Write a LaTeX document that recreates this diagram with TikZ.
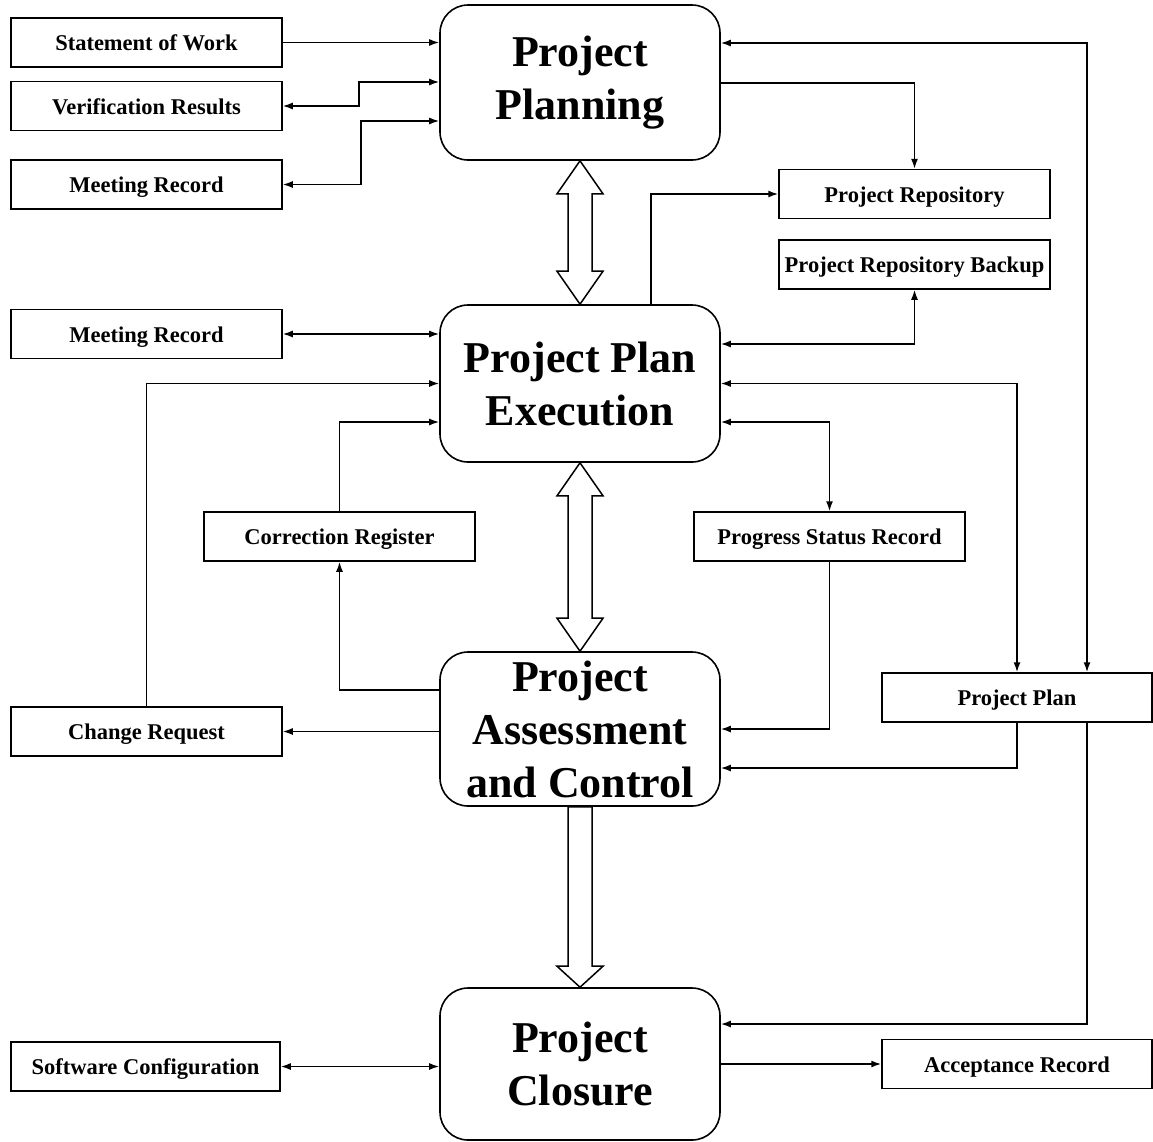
\documentclass[tikz,border=0pt]{standalone}
\usepackage{fontspec}
\setmainfont{Liberation Serif}
\usetikzlibrary{arrows.meta,calc}
\begin{document}
\begin{tikzpicture}[x=1pt,y=-1pt,
  bigbox/.style={draw, line width=1.6pt, rounded corners=28pt, minimum width=280pt, align=center, inner sep=0pt, font=\fontsize{44}{53}\selectfont\bfseries},
  smallbox/.style={draw, line width=1.5pt, minimum width=271pt, minimum height=49pt, inner sep=0pt, text height=18pt, text depth=2pt, font=\fontsize{22.5}{27}\selectfont\bfseries},
  conn/.style={line width=1.5pt},
  >={Latex[length=10pt,width=7pt]},
  blk/.style={draw, line width=1.5pt, fill=white, line join=miter}]
\useasboundingbox (0,0) rectangle (1153,1141);

% main nodes
\node[bigbox, minimum height=155pt] (plan) at (580,82.5) {Project\\Planning};
\node[bigbox, minimum height=157pt] (exec) at (580,383.5) {Project Plan\\Execution};
\node[bigbox, minimum height=154pt] (assess) at (580,729) {Project\\Assessment\\and Control};
\node[bigbox, minimum height=152pt] (closure) at (580,1064) {Project\\Closure};

% small boxes
\node[smallbox] (sow) at (146.5,42.5) {Statement of Work};
\node[smallbox] (ver) at (146.5,106) {Verification Results};
\node[smallbox] (mr1) at (146.5,184.5) {Meeting Record};
\node[smallbox] (mr2) at (146.5,334) {Meeting Record};
\node[smallbox] (cr) at (146.5,731.5) {Change Request};
\node[smallbox, minimum width=269pt] (sc) at (145.5,1066.5) {Software Configuration};
\node[smallbox] (corr) at (339.5,536.5) {Correction Register};
\node[smallbox] (psr) at (829.5,536.5) {Progress Status Record};
\node[smallbox] (repo) at (914.5,194) {Project Repository};
\node[smallbox] (backup) at (914.5,264.5) {Project Repository Backup};
\node[smallbox, minimum width=270pt] (pp) at (1017,697.5) {Project Plan};
\node[smallbox, minimum width=270pt] (acc) at (1017,1064) {Acceptance Record};

% helper coordinates
\coordinate (y82) at (0,82);
\coordinate (y121) at (0,121);
\coordinate (y43) at (0,43);
\coordinate (y83) at (0,83);
\coordinate (y344) at (0,344);
\coordinate (y422) at (0,422);
\coordinate (y690) at (0,690);
\coordinate (y768) at (0,768);
\coordinate (y1024) at (0,1024);
\coordinate (x1087) at (1087,0);
\coordinate (x651) at (651,0);

% connectors
\draw[conn,->] (sow.east) -- (sow.east -| plan.west);
\draw[conn,<->] (ver.east) -- ++(76,0) |- (plan.west |- y82);
\draw[conn,<->] (mr1.east) -- ++(78,0) |- (plan.west |- y121);
\draw[conn,<->] (plan.east |- y43) -| (pp.north -| x1087);
\draw[conn,->] (plan.east |- y83) -| (repo.north);
\draw[conn,->] (exec.north -| x651) |- (repo.west);
\draw[conn,<->] (backup.south) |- (exec.east |- y344);
\draw[conn,<->] (exec.east) -| (pp.north);
\draw[conn,<->] (exec.east |- y422) -| (psr.north);
\draw[conn,->] (psr.south) |- (assess.east);
\draw[conn,->] (pp.south) |- (assess.east |- y768);
\draw[conn,->] (pp.south -| x1087) |- (closure.east |- y1024);
\draw[conn,->] (closure.east) -- (acc.west);
\draw[conn,<->] (sc.east) -- (sc.east -| closure.west);
\draw[conn,<->] (mr2.east) -- (mr2.east -| exec.west);
\draw[conn,->] (assess.west |- cr.east) -- (cr.east);
\draw[conn,->] (cr.north) |- (exec.west);
\draw[conn,->] (assess.west |- y690) -| (corr.south);
\draw[conn,->] (corr.north) |- (exec.west |- y422);

% block arrows
\draw[blk] (plan.south) -- ($(plan.south)+(23,33)$) -- ($(plan.south)+(12,33)$)
  -- ($(exec.north)+(12,-33)$) -- ($(exec.north)+(23,-33)$) -- (exec.north)
  -- ($(exec.north)+(-23,-33)$) -- ($(exec.north)+(-12,-33)$)
  -- ($(plan.south)+(-12,33)$) -- ($(plan.south)+(-23,33)$) -- cycle;
\draw[blk] (exec.south) -- ($(exec.south)+(23,33)$) -- ($(exec.south)+(12,33)$)
  -- ($(assess.north)+(12,-33)$) -- ($(assess.north)+(23,-33)$) -- (assess.north)
  -- ($(assess.north)+(-23,-33)$) -- ($(assess.north)+(-12,-33)$)
  -- ($(exec.south)+(-12,33)$) -- ($(exec.south)+(-23,33)$) -- cycle;
\draw[blk] ($(assess.south)+(-12,0)$) -- ($(assess.south)+(12,0)$)
  -- ($(closure.north)+(12,-21)$) -- ($(closure.north)+(23,-21)$) -- (closure.north)
  -- ($(closure.north)+(-23,-21)$) -- ($(closure.north)+(-12,-21)$) -- cycle;
\end{tikzpicture}
\end{document}
